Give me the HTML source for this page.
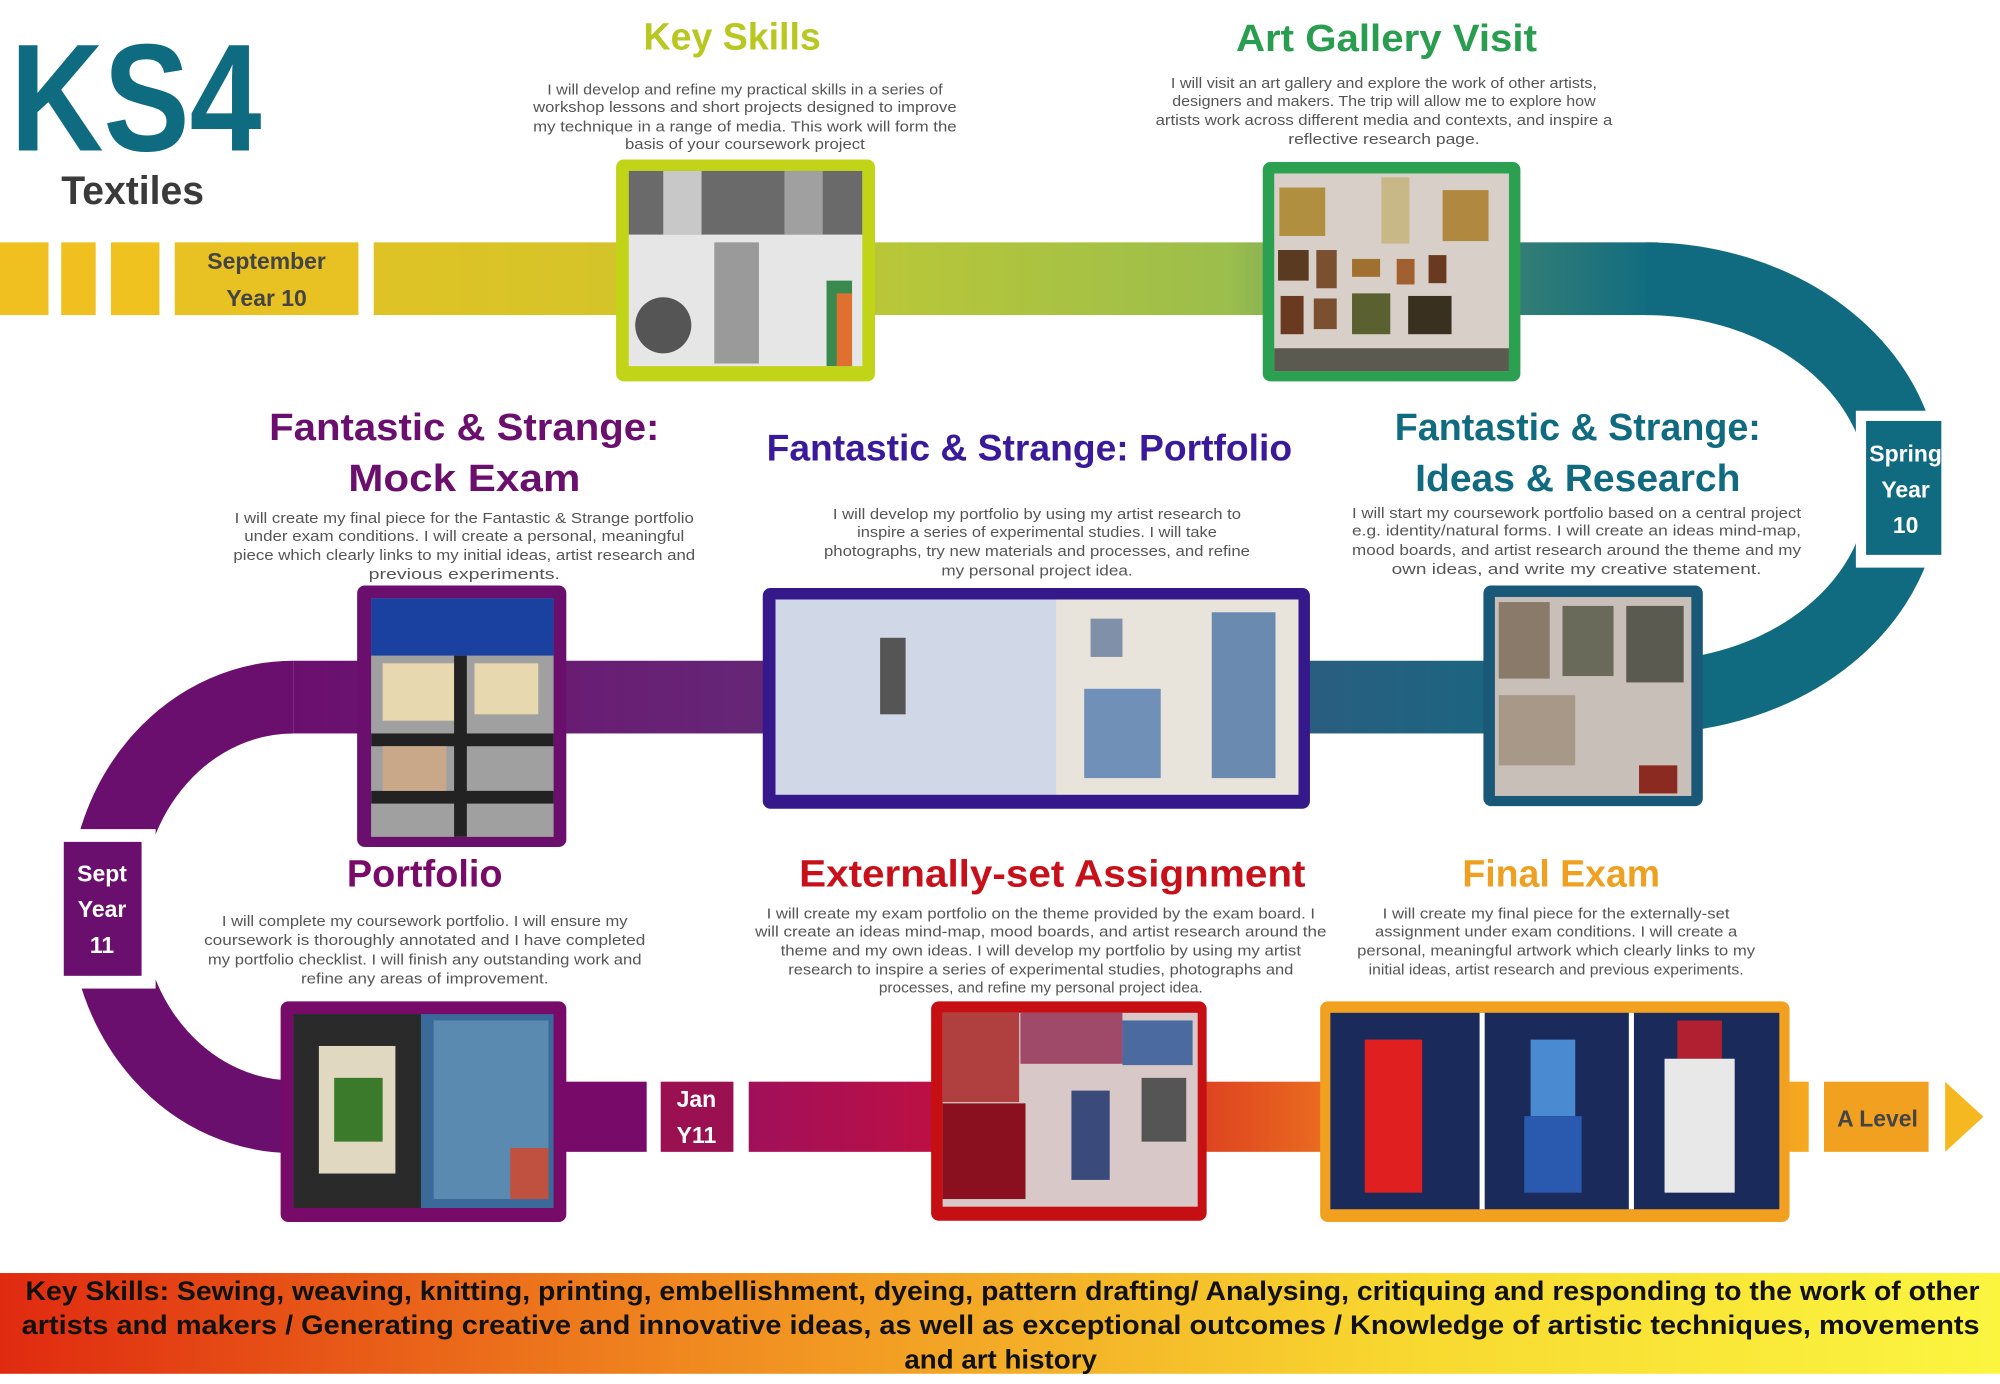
<!DOCTYPE html>
<html><head><meta charset="utf-8"><style>
html,body{margin:0;padding:0;background:#fff;}
svg{display:block;}
text{font-family:"Liberation Sans",sans-serif;}
.t{font-weight:bold;text-anchor:middle;}
.b{font-size:11.5px;fill:#555;text-anchor:middle;}
.lb{font-weight:bold;font-size:18px;text-anchor:middle;}
.bn{font-weight:bold;font-size:21px;fill:#111;}
</style></head><body>
<svg width="2000" height="1384" viewBox="0 0 1568 1085" preserveAspectRatio="none" xmlns="http://www.w3.org/2000/svg">
<defs>
<linearGradient id="g1" gradientUnits="userSpaceOnUse" x1="0" y1="0" x2="1300" y2="0">
<stop offset="0" stop-color="#f0c020"/><stop offset="0.35" stop-color="#d6c428"/><stop offset="0.55" stop-color="#b6c63a"/><stop offset="0.74" stop-color="#9cbe4c"/><stop offset="0.86" stop-color="#4a8a70"/><stop offset="1" stop-color="#106b80"/>
</linearGradient>
<linearGradient id="g2" gradientUnits="userSpaceOnUse" x1="230" y1="0" x2="1290" y2="0">
<stop offset="0" stop-color="#6b0f6e"/><stop offset="0.4" stop-color="#652a78"/><stop offset="0.75" stop-color="#2a5e80"/><stop offset="1" stop-color="#106b80"/>
</linearGradient>
<linearGradient id="g3" gradientUnits="userSpaceOnUse" x1="587" y1="0" x2="1418" y2="0">
<stop offset="0" stop-color="#a0105a"/><stop offset="0.2" stop-color="#c01040"/><stop offset="0.45" stop-color="#e04a20"/><stop offset="0.6" stop-color="#f08020"/><stop offset="1" stop-color="#f5a820"/>
</linearGradient>
<linearGradient id="g4" x1="0" y1="0" x2="1" y2="0">
<stop offset="0" stop-color="#e02a10"/><stop offset="0.35" stop-color="#f08a20"/><stop offset="0.7" stop-color="#f8d830"/><stop offset="1" stop-color="#fbf540"/>
</linearGradient>
</defs>

<text x="8" y="118" font-size="120" font-weight="bold" fill="#0f6b80" textLength="197" lengthAdjust="spacingAndGlyphs">KS4</text>
<text x="48" y="160" font-size="31" font-weight="bold" fill="#3a3a3a" textLength="112" lengthAdjust="spacingAndGlyphs">Textiles</text>

<rect x="0" y="190" width="38" height="57" fill="#f0c020"/>
<rect x="48" y="190" width="27" height="57" fill="#f0c020"/>
<rect x="87" y="190" width="38" height="57" fill="#efc220"/>
<rect x="137" y="190" width="144" height="57" fill="#e8c222"/>
<text class="lb" x="209" y="211" fill="#444">September</text>
<text class="lb" x="209" y="240" fill="#444">Year 10</text>
<rect x="293" y="190" width="1007" height="57" fill="url(#g1)"/>
<path d="M1290,218.5 A203,164 0 0 1 1290,546.5" fill="none" stroke="#106b80" stroke-width="57"/>
<rect x="1455" y="322" width="80" height="123" fill="#fff"/>
<rect x="1463" y="330" width="59" height="105" fill="#106b80"/>
<text class="lb" x="1494" y="362" fill="#fff">Spring</text>
<text class="lb" x="1494" y="390" fill="#fff">Year</text>
<text class="lb" x="1494" y="418" fill="#fff">10</text>

<rect x="230" y="518" width="1062" height="57" fill="url(#g2)"/>
<path d="M230,546.5 A147,164 0 0 0 230,875.5" fill="none" stroke="#6b0f6e" stroke-width="57"/>
<rect x="40" y="650" width="82" height="125" fill="#fff"/>
<rect x="50" y="660" width="61" height="105" fill="#6b0f6e"/>
<text class="lb" x="80" y="691" fill="#fff">Sept</text>
<text class="lb" x="80" y="719" fill="#fff">Year</text>
<text class="lb" x="80" y="747" fill="#fff">11</text>

<rect x="228" y="848" width="279" height="55" fill="#780b6a"/>
<rect x="518" y="848" width="57" height="55" fill="#9a1050"/>
<text class="lb" x="546" y="868" fill="#fff">Jan</text>
<text class="lb" x="546" y="896" fill="#fff">Y11</text>
<rect x="587" y="848" width="831" height="55" fill="url(#g3)"/>
<rect x="1430" y="848" width="82" height="55" fill="#f2a020"/>
<text class="lb" x="1472" y="883" fill="#444">A Level</text>
<polygon points="1525,848 1555,875.5 1525,903" fill="#f5b820"/>

<text class="t" x="574" y="39" font-size="30" fill="#b8c820" textLength="139" lengthAdjust="spacingAndGlyphs">Key Skills</text>
<text class="t" x="1087" y="40" font-size="30" fill="#2a9e50" textLength="236" lengthAdjust="spacingAndGlyphs">Art Gallery Visit</text>
<text class="t" x="364" y="345" font-size="30" fill="#6b0f6e" textLength="306" lengthAdjust="spacingAndGlyphs">Fantastic &amp; Strange:</text>
<text class="t" x="364" y="385" font-size="30" fill="#6b0f6e" textLength="182" lengthAdjust="spacingAndGlyphs">Mock Exam</text>
<text class="t" x="807" y="361" font-size="29" fill="#3a1a9a" textLength="412" lengthAdjust="spacingAndGlyphs">Fantastic &amp; Strange: Portfolio</text>
<text class="t" x="1237" y="345" font-size="30" fill="#106b80" textLength="287" lengthAdjust="spacingAndGlyphs">Fantastic &amp; Strange:</text>
<text class="t" x="1237" y="385" font-size="30" fill="#106b80" textLength="255" lengthAdjust="spacingAndGlyphs">Ideas &amp; Research</text>
<text class="t" x="333" y="695" font-size="30" fill="#7a0a6a" textLength="122" lengthAdjust="spacingAndGlyphs">Portfolio</text>
<text class="t" x="825" y="695" font-size="30" fill="#c8101a" textLength="397" lengthAdjust="spacingAndGlyphs">Externally-set Assignment</text>
<text class="t" x="1224" y="695" font-size="30" fill="#f0a020" textLength="155" lengthAdjust="spacingAndGlyphs">Final Exam</text>

<g>
<text class="b" x="584" y="74" textLength="310" lengthAdjust="spacingAndGlyphs">I will develop and refine my practical skills in a series of</text>
<text class="b" x="584" y="88" textLength="332" lengthAdjust="spacingAndGlyphs">workshop lessons and short projects designed to improve</text>
<text class="b" x="584" y="103" textLength="332" lengthAdjust="spacingAndGlyphs">my technique in a range of media. This work will form the</text>
<text class="b" x="584" y="117" textLength="188" lengthAdjust="spacingAndGlyphs">basis of your coursework project</text>

<text class="b" x="1085" y="69" textLength="334" lengthAdjust="spacingAndGlyphs">I will visit an art gallery and explore the work of other artists,</text>
<text class="b" x="1085" y="83" textLength="332" lengthAdjust="spacingAndGlyphs">designers and makers. The trip will allow me to explore how</text>
<text class="b" x="1085" y="98" textLength="358" lengthAdjust="spacingAndGlyphs">artists work across different media and contexts, and inspire a</text>
<text class="b" x="1085" y="113" textLength="150" lengthAdjust="spacingAndGlyphs">reflective research page.</text>

<text class="b" x="364" y="410" textLength="360" lengthAdjust="spacingAndGlyphs">I will create my final piece for the Fantastic &amp; Strange portfolio</text>
<text class="b" x="364" y="424" textLength="345" lengthAdjust="spacingAndGlyphs">under exam conditions. I will create a personal, meaningful</text>
<text class="b" x="364" y="439" textLength="362" lengthAdjust="spacingAndGlyphs">piece which clearly links to my initial ideas, artist research and</text>
<text class="b" x="364" y="454" textLength="150" lengthAdjust="spacingAndGlyphs">previous experiments.</text>

<text class="b" x="813" y="407" textLength="320" lengthAdjust="spacingAndGlyphs">I will develop my portfolio by using my artist research to</text>
<text class="b" x="813" y="421" textLength="282" lengthAdjust="spacingAndGlyphs">inspire a series of experimental studies. I will take</text>
<text class="b" x="813" y="436" textLength="334" lengthAdjust="spacingAndGlyphs">photographs, try new materials and processes, and refine</text>
<text class="b" x="813" y="451" textLength="150" lengthAdjust="spacingAndGlyphs">my personal project idea.</text>

<text class="b" x="1236" y="406" textLength="352" lengthAdjust="spacingAndGlyphs">I will start my coursework portfolio based on a central project</text>
<text class="b" x="1236" y="420" textLength="352" lengthAdjust="spacingAndGlyphs">e.g. identity/natural forms. I will create an ideas mind-map,</text>
<text class="b" x="1236" y="435" textLength="352" lengthAdjust="spacingAndGlyphs">mood boards, and artist research around the theme and my</text>
<text class="b" x="1236" y="450" textLength="290" lengthAdjust="spacingAndGlyphs">own ideas, and write my creative statement.</text>

<text class="b" x="333" y="726" textLength="318" lengthAdjust="spacingAndGlyphs">I will complete my coursework portfolio. I will ensure my</text>
<text class="b" x="333" y="741" textLength="346" lengthAdjust="spacingAndGlyphs">coursework is thoroughly annotated and I have completed</text>
<text class="b" x="333" y="756" textLength="340" lengthAdjust="spacingAndGlyphs">my portfolio checklist. I will finish any outstanding work and</text>
<text class="b" x="333" y="771" textLength="194" lengthAdjust="spacingAndGlyphs">refine any areas of improvement.</text>

<text class="b" x="816" y="720" textLength="430" lengthAdjust="spacingAndGlyphs">I will create my exam portfolio on the theme provided by the exam board. I</text>
<text class="b" x="816" y="734" textLength="448" lengthAdjust="spacingAndGlyphs">will create an ideas mind-map, mood boards, and artist research around the</text>
<text class="b" x="816" y="749" textLength="408" lengthAdjust="spacingAndGlyphs">theme and my own ideas. I will develop my portfolio by using my artist</text>
<text class="b" x="816" y="764" textLength="396" lengthAdjust="spacingAndGlyphs">research to inspire a series of experimental studies, photographs and</text>
<text class="b" x="816" y="778" textLength="254" lengthAdjust="spacingAndGlyphs">processes, and refine my personal project idea.</text>

<text class="b" x="1220" y="720" textLength="272" lengthAdjust="spacingAndGlyphs">I will create my final piece for the externally-set</text>
<text class="b" x="1220" y="734" textLength="284" lengthAdjust="spacingAndGlyphs">assignment under exam conditions. I will create a</text>
<text class="b" x="1220" y="749" textLength="312" lengthAdjust="spacingAndGlyphs">personal, meaningful artwork which clearly links to my</text>
<text class="b" x="1220" y="764" textLength="294" lengthAdjust="spacingAndGlyphs">initial ideas, artist research and previous experiments.</text>
</g>

<rect x="483" y="125" width="203" height="174" rx="6" fill="#c2d418"/>
<rect x="493" y="134" width="183" height="153" fill="#d8d8d8"/>
<rect x="493" y="134" width="183" height="50" fill="#6a6a6a"/>
<rect x="520" y="134" width="30" height="50" fill="#c8c8c8"/>
<rect x="615" y="134" width="30" height="50" fill="#a0a0a0"/>
<rect x="493" y="184" width="183" height="103" fill="#e6e6e6"/>
<ellipse cx="520" cy="255" rx="22" ry="22" fill="#555"/>
<rect x="560" y="190" width="35" height="95" fill="#9a9a9a"/>
<rect x="648" y="220" width="20" height="67" fill="#3a8a50"/>
<rect x="656" y="230" width="12" height="57" fill="#e07030"/>

<rect x="990" y="127" width="202" height="172" rx="6" fill="#2aa050"/>
<rect x="999" y="136" width="184" height="155" fill="#d8d0c8"/>
<rect x="1003" y="147" width="36" height="38" fill="#b09040"/>
<rect x="1083" y="139" width="22" height="52" fill="#c8b888"/>
<rect x="1131" y="149" width="36" height="40" fill="#b08840"/>
<rect x="1002" y="196" width="24" height="24" fill="#5a3a20"/>
<rect x="1032" y="196" width="16" height="30" fill="#7a5030"/>
<rect x="1060" y="203" width="22" height="14" fill="#a07030"/>
<rect x="1095" y="203" width="14" height="20" fill="#a06030"/>
<rect x="1120" y="200" width="14" height="22" fill="#6a3a20"/>
<rect x="1004" y="232" width="18" height="30" fill="#6a3a20"/>
<rect x="1030" y="234" width="18" height="24" fill="#7a5030"/>
<rect x="1060" y="230" width="30" height="32" fill="#5a6030"/>
<rect x="1104" y="232" width="34" height="30" fill="#3a3020"/>
<rect x="999" y="273" width="184" height="18" fill="#5a5a50"/>

<rect x="280" y="459" width="164" height="205" rx="6" fill="#6b0f6e"/>
<rect x="291" y="469" width="143" height="187" fill="#8a8070"/>
<rect x="291" y="469" width="143" height="45" fill="#1a40a0"/>
<rect x="291" y="514" width="143" height="142" fill="#a0a0a0"/>
<rect x="300" y="520" width="60" height="45" fill="#e8d8b0"/>
<rect x="372" y="520" width="50" height="40" fill="#e8d8b0"/>
<rect x="291" y="575" width="143" height="10" fill="#222"/>
<rect x="291" y="620" width="143" height="10" fill="#222"/>
<rect x="356" y="514" width="10" height="142" fill="#222"/>
<rect x="300" y="585" width="50" height="35" fill="#c8a888"/>

<rect x="598" y="461" width="429" height="173" rx="6" fill="#35188a"/>
<rect x="608" y="470" width="410" height="153" fill="#c0c8d8"/>
<rect x="608" y="470" width="220" height="153" fill="#d0d8e8"/>
<rect x="690" y="500" width="20" height="60" fill="#555"/>
<rect x="828" y="470" width="190" height="153" fill="#e8e4dc"/>
<rect x="850" y="540" width="60" height="70" fill="#7090b8"/>
<rect x="950" y="480" width="50" height="130" fill="#6a8ab0"/>
<rect x="855" y="485" width="25" height="30" fill="#8090a8"/>

<rect x="1163" y="459" width="172" height="173" rx="6" fill="#1a5878"/>
<rect x="1172" y="468" width="154" height="156" fill="#c8c0b8"/>
<rect x="1175" y="472" width="40" height="60" fill="#8a7a6a"/>
<rect x="1225" y="475" width="40" height="55" fill="#6a6a5a"/>
<rect x="1275" y="475" width="45" height="60" fill="#5a5a50"/>
<rect x="1175" y="545" width="60" height="55" fill="#a89888"/>
<rect x="1285" y="600" width="30" height="22" fill="#8a2a20"/>

<rect x="220" y="785" width="224" height="173" rx="6" fill="#780b6a"/>
<rect x="230" y="795" width="204" height="152" fill="#3a6a9a"/>
<rect x="230" y="795" width="100" height="152" fill="#2a2a2a"/>
<rect x="250" y="820" width="60" height="100" fill="#e0d8c0"/>
<rect x="262" y="845" width="38" height="50" fill="#3a7a2a"/>
<rect x="340" y="800" width="90" height="140" fill="#5a8ab0"/>
<rect x="400" y="900" width="30" height="40" fill="#c05040"/>

<rect x="730" y="785" width="216" height="172" rx="6" fill="#c50f12"/>
<rect x="739" y="794" width="200" height="152" fill="#d8c8c8"/>
<rect x="739" y="794" width="60" height="70" fill="#b04040"/>
<rect x="800" y="794" width="80" height="40" fill="#a04a6a"/>
<rect x="880" y="800" width="55" height="35" fill="#4a6aa0"/>
<rect x="739" y="865" width="65" height="75" fill="#8a1020"/>
<rect x="840" y="855" width="30" height="70" fill="#3a4a7a"/>
<rect x="895" y="845" width="35" height="50" fill="#555"/>

<rect x="1035" y="785" width="368" height="173" rx="6" fill="#f2a020"/>
<rect x="1043" y="794" width="352" height="154" fill="#1a2a5a"/>
<rect x="1160" y="794" width="4" height="154" fill="#fff"/>
<rect x="1277" y="794" width="4" height="154" fill="#fff"/>
<rect x="1070" y="815" width="45" height="120" fill="#e02020"/>
<rect x="1200" y="815" width="35" height="60" fill="#4a8ad0"/>
<rect x="1195" y="875" width="45" height="60" fill="#2a5ab0"/>
<rect x="1315" y="800" width="35" height="30" fill="#b02030"/>
<rect x="1305" y="830" width="55" height="105" fill="#e8e8e8"/>

<rect x="0" y="998" width="1568" height="79" fill="url(#g4)"/>
<text class="bn" x="20" y="1019" textLength="1532" lengthAdjust="spacingAndGlyphs">Key Skills: Sewing, weaving, knitting, printing, embellishment, dyeing, pattern drafting/ Analysing, critiquing and responding to the work of other</text>
<text class="bn" x="17" y="1046" textLength="1535" lengthAdjust="spacingAndGlyphs">artists and makers / Generating creative and innovative ideas, as well as exceptional outcomes / Knowledge of artistic techniques, movements</text>
<text class="bn" x="709" y="1073" textLength="151" lengthAdjust="spacingAndGlyphs">and art history</text>
</svg>
</body></html>
